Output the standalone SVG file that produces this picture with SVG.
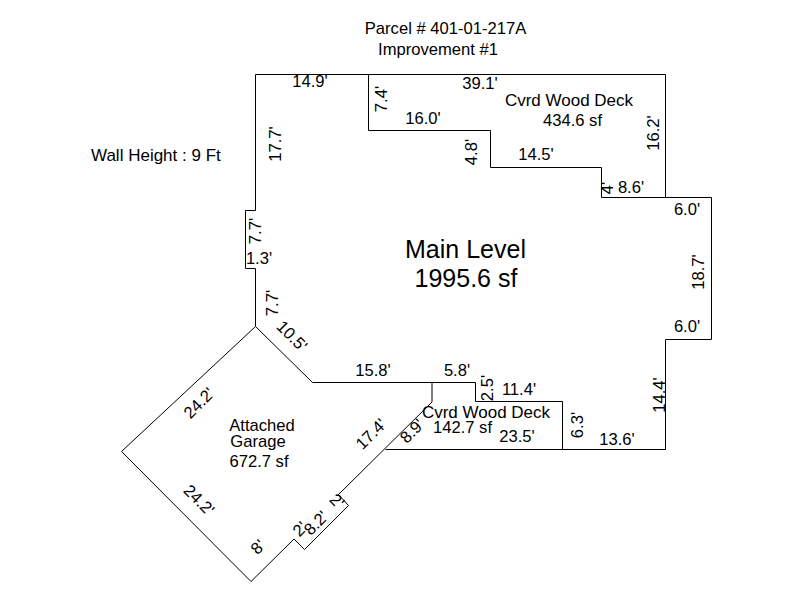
<svg xmlns="http://www.w3.org/2000/svg" width="800" height="600" viewBox="0 0 800 600">
<style>
.w{fill:none;stroke:#000;stroke-width:1}
text{font-family:"Liberation Sans",Arial,sans-serif;font-size:16.6px;fill:#000}
.m{text-anchor:middle}
.l{font-size:17px}
.b{font-size:25px}
</style>
<rect width="800" height="600" fill="#fff"/>
<g id="connectors">
<path class="w" d="M255.500 74.500H665.500V197.500H711.500V339.500H665.500V449.500H385.500M255.500 74.500V210.500H245.500V268.500H255.500V326.500L312.500 382.500H475.500V401.500H562.500V449.500"/>
<path class="w" d="M368.500 74.500V130.500H490.500V167.500H601.500V197.500H665.500"/>
<path class="w" d="M255.500 326.500L121.500 451.500L251 581.500L294 539L304.500 549.500L348.500 505.500L338.500 494.500L432 402V382.500"/>
</g>
<g id="title"><text x="445.500" y="34" class="m">Parcel # 401-01-217A</text><text x="438" y="55" class="m">Improvement #1</text></g>
<g id="wall-height"><text x="91" y="161" class="l">Wall Height : 9 Ft</text></g>
<g id="main-level"><text x="465.500" y="258" class="m b">Main Level</text><text x="466" y="287" class="m b">1995.6 sf</text></g>
<g id="deck-upper"><text x="569" y="106" class="m l">Cvrd Wood Deck</text><text x="572.500" y="126" class="m">434.6 sf</text></g>
<g id="deck-lower"><text x="486" y="418" class="m l">Cvrd Wood Deck</text><text x="462.500" y="433" class="m">142.7 sf</text></g>
<g id="garage"><text x="262" y="431" class="m">Attached</text><text x="258" y="447" class="m">Garage</text><text x="259" y="467" class="m">672.7 sf</text></g>
<g id="dimensions">
<text x="310" y="87" class="m">14.9'</text><text x="480" y="89" class="m">39.1'</text><text x="423" y="124" class="m">16.0'</text><text x="536" y="160" class="m">14.5'</text><text x="631" y="193" class="m">8.6'</text><text x="687" y="215" class="m">6.0'</text><text x="687" y="332" class="m">6.0'</text><text x="259" y="264" class="m">1.3'</text><text x="373" y="376" class="m">15.8'</text><text x="457" y="376" class="m">5.8'</text><text x="519" y="395" class="m">11.4'</text><text x="517" y="442" class="m">23.5'</text><text x="617" y="445" class="m">13.6'</text>
<text class="m" transform="translate(387 99) rotate(-90)">7.4'</text>
<text class="m" transform="translate(281 144) rotate(-90)">17.7'</text>
<text class="m" transform="translate(477 152) rotate(-90)">4.8'</text>
<text class="m" transform="translate(659 133) rotate(-90)">16.2'</text>
<text class="m" transform="translate(613 188) rotate(-90)">4'</text>
<text class="m" transform="translate(704 272) rotate(-90)">18.7'</text>
<text class="m" transform="translate(261 231) rotate(-90)">7.7'</text>
<text class="m" transform="translate(278 303) rotate(-90)">7.7'</text>
<text class="m" transform="translate(493 388) rotate(-90)">2.5'</text>
<text class="m" transform="translate(665 395) rotate(-90)">14.4'</text>
<text class="m" transform="translate(583 425) rotate(-90)">6.3'</text>
<text class="m" transform="translate(288 340) rotate(45)">10.5'</text>
<text class="m" transform="translate(203 407) rotate(-45)">24.2'</text>
<text class="m" transform="translate(195 504) rotate(45)">24.2'</text>
<text class="m" transform="translate(262 551) rotate(-45)">8'</text>
<text class="m" transform="translate(320 527) rotate(-45)">8.2'</text>
<text class="m" transform="translate(304 533) rotate(-45)">2'</text>
<text class="m" transform="translate(333 505) rotate(45)">2'</text>
<text class="m" transform="translate(375 438) rotate(-45)">17.4'</text>
<text class="m" transform="translate(416 435) rotate(-45)">8.9'</text>
</g>
</svg>
